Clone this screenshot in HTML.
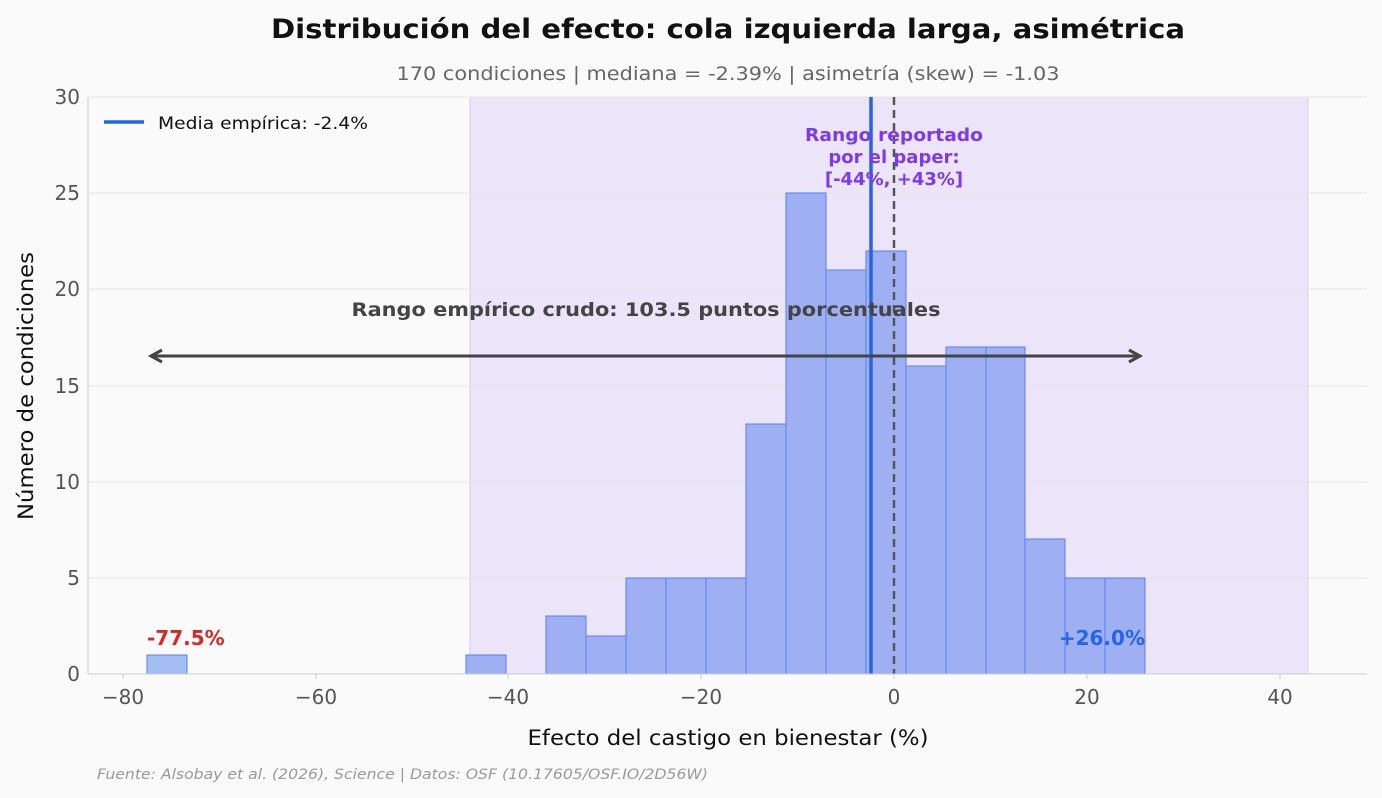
<!DOCTYPE html>
<html><head><meta charset="utf-8"><style>
html,body{margin:0;padding:0;background:#fafafa;}
svg{display:block;font-family:"DejaVu Sans","Liberation Sans",sans-serif;}
</style></head><body>
<svg width="1382" height="798" viewBox="0 0 1382 798" xmlns="http://www.w3.org/2000/svg">
<rect width="1382" height="798" fill="#fafafa"/>
<text x="728" y="38" text-anchor="middle" font-size="27" font-weight="bold" fill="#111" textLength="914" lengthAdjust="spacingAndGlyphs">Distribución del efecto: cola izquierda larga, asimétrica</text>
<text x="728" y="80" text-anchor="middle" font-size="19" fill="#666" textLength="663" lengthAdjust="spacingAndGlyphs">170 condiciones | mediana = -2.39% | asimetría (skew) = -1.03</text>
<rect x="470" y="97" width="838" height="577" fill="#ece4f8"/>
<line x1="470" y1="97" x2="470" y2="674" stroke="#d8ccf0"/>
<line x1="1308" y1="97" x2="1308" y2="674" stroke="#d8ccf0"/>
<g stroke="#e6e6e6" stroke-width="1">
<line x1="88" y1="578" x2="1367" y2="578"/><line x1="88" y1="482" x2="1367" y2="482"/>
<line x1="88" y1="386" x2="1367" y2="386"/><line x1="88" y1="289" x2="1367" y2="289"/>
<line x1="88" y1="193" x2="1367" y2="193"/><line x1="88" y1="97" x2="1367" y2="97"/>
</g>
<g stroke="#5a7ef0" stroke-width="1">
<rect x="147" y="655" width="40" height="19" fill="#a5bdf5"/>
<rect x="466" y="655" width="40" height="19" fill="#9fb0f2"/>
<rect x="546" y="616" width="40" height="58" fill="#9fb0f2"/>
<rect x="586" y="636" width="40" height="38" fill="#9fb0f2"/>
<rect x="626" y="578" width="40" height="96" fill="#9fb0f2"/>
<rect x="666" y="578" width="40" height="96" fill="#9fb0f2"/>
<rect x="706" y="578" width="40" height="96" fill="#9fb0f2"/>
<rect x="746" y="424" width="40" height="250" fill="#9fb0f2"/>
<rect x="786" y="193" width="40" height="481" fill="#9fb0f2"/>
<rect x="826" y="270" width="40" height="404" fill="#9fb0f2"/>
<rect x="866" y="251" width="40" height="423" fill="#9fb0f2"/>
<rect x="906" y="366" width="40" height="308" fill="#9fb0f2"/>
<rect x="946" y="347" width="40" height="327" fill="#9fb0f2"/>
<rect x="986" y="347" width="39" height="327" fill="#9fb0f2"/>
<rect x="1025" y="539" width="40" height="135" fill="#9fb0f2"/>
<rect x="1065" y="578" width="40" height="96" fill="#9fb0f2"/>
<rect x="1105" y="578" width="40" height="96" fill="#9fb0f2"/>
</g>
<line x1="871" y1="97" x2="871" y2="674" stroke="#2563eb" stroke-width="3.5"/>
<line x1="894" y1="97" x2="894" y2="674" stroke="#555" stroke-width="2.5" stroke-dasharray="8,5"/>
<line x1="152" y1="356" x2="1139" y2="356" stroke="#444" stroke-width="3"/>
<path d="M162 350 L151 356 L162 362" fill="none" stroke="#444" stroke-width="3"/>
<path d="M1129 350 L1140 356 L1129 362" fill="none" stroke="#444" stroke-width="3"/>
<text x="646" y="316" text-anchor="middle" font-size="19" font-weight="bold" fill="#444" textLength="589" lengthAdjust="spacingAndGlyphs">Rango empírico crudo: 103.5 puntos porcentuales</text>
<g font-size="18" font-weight="bold" fill="#7c3aed" text-anchor="middle">
<text x="894" y="141" textLength="178" lengthAdjust="spacingAndGlyphs">Rango reportado</text><text x="894" y="163">por el paper:</text><text x="894" y="185">[-44%, +43%]</text>
</g>
<text x="147" y="645" font-size="20" font-weight="bold" fill="#dc2626">-77.5%</text>
<text x="1145" y="645" text-anchor="end" font-size="20" font-weight="bold" fill="#2563eb">+26.0%</text>
<line x1="88" y1="97" x2="88" y2="674" stroke="#ccc"/>
<line x1="88" y1="674" x2="1367" y2="674" stroke="#ccc"/>
<g font-size="20" fill="#555" text-anchor="end">
<text x="80" y="681">0</text><text x="80" y="585">5</text><text x="80" y="489">10</text>
<text x="80" y="393">15</text><text x="80" y="296">20</text><text x="80" y="200">25</text><text x="80" y="104">30</text>
</g>
<g font-size="20" fill="#555" text-anchor="middle">
<text x="123" y="704">−80</text><text x="316" y="704">−60</text><text x="508" y="704">−40</text>
<text x="701" y="704">−20</text><text x="894" y="704">0</text><text x="1087" y="704">20</text><text x="1280" y="704">40</text>
</g>
<g stroke="#ccc"><line x1="123" y1="674" x2="123" y2="679"/><line x1="316" y1="674" x2="316" y2="679"/><line x1="508" y1="674" x2="508" y2="679"/><line x1="701" y1="674" x2="701" y2="679"/><line x1="894" y1="674" x2="894" y2="679"/><line x1="1087" y1="674" x2="1087" y2="679"/><line x1="1280" y1="674" x2="1280" y2="679"/></g>
<text x="728" y="745" text-anchor="middle" font-size="21" fill="#111" textLength="401" lengthAdjust="spacingAndGlyphs">Efecto del castigo en bienestar (%)</text>
<text transform="translate(33,386) rotate(-90)" text-anchor="middle" font-size="21" fill="#111" textLength="268" lengthAdjust="spacingAndGlyphs">Número de condiciones</text>
<line x1="104" y1="122" x2="144" y2="122" stroke="#2563eb" stroke-width="3.5"/>
<text x="158" y="129" font-size="17" fill="#111" textLength="210" lengthAdjust="spacingAndGlyphs">Media empírica: -2.4%</text>
<text x="97" y="779" font-size="14" font-style="italic" fill="#999" textLength="611" lengthAdjust="spacingAndGlyphs">Fuente: Alsobay et al. (2026), Science | Datos: OSF (10.17605/OSF.IO/2D56W)</text>
</svg>
</body></html>
